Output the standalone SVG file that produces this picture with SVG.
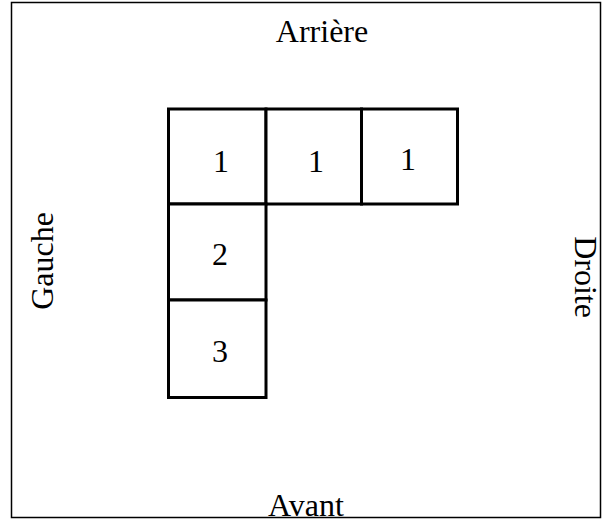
<svg xmlns="http://www.w3.org/2000/svg" width="613" height="522" viewBox="0 0 613 522">
<style>
text{font-family:"Liberation Serif","Times New Roman",serif;font-size:32px;fill:#000;text-anchor:middle}
.cell{fill:#fff;stroke:#000;stroke-width:3}
</style>
<rect x="0" y="0" width="613" height="522" fill="#fff"/>
<rect id="frame" x="11.5" y="2.5" width="589" height="515" fill="none" stroke="#000" stroke-width="1.5"/>
<text id="arriere" x="322" y="42">Arrière</text>
<text id="avant" x="306" y="516">Avant</text>
<text id="gauche" transform="translate(53,261) rotate(-90)">Gauche</text>
<text id="droite" transform="translate(575,277) rotate(90)">Droite</text>
<g id="c11"><rect class="cell" x="168.5" y="109" width="97.5" height="95"/><text x="221" y="172">1</text></g>
<g id="c12"><rect class="cell" x="266" y="109" width="95.5" height="95"/><text x="316" y="172">1</text></g>
<g id="c13"><rect class="cell" x="361.5" y="109" width="96" height="95"/><text x="408" y="170">1</text></g>
<g id="c2"><rect class="cell" x="168.5" y="204" width="97.5" height="96"/><text x="220" y="265">2</text></g>
<g id="c3"><rect class="cell" x="168.5" y="300" width="97.5" height="97.5"/><text x="220" y="362">3</text></g>
<g id="connectors"></g>
</svg>
